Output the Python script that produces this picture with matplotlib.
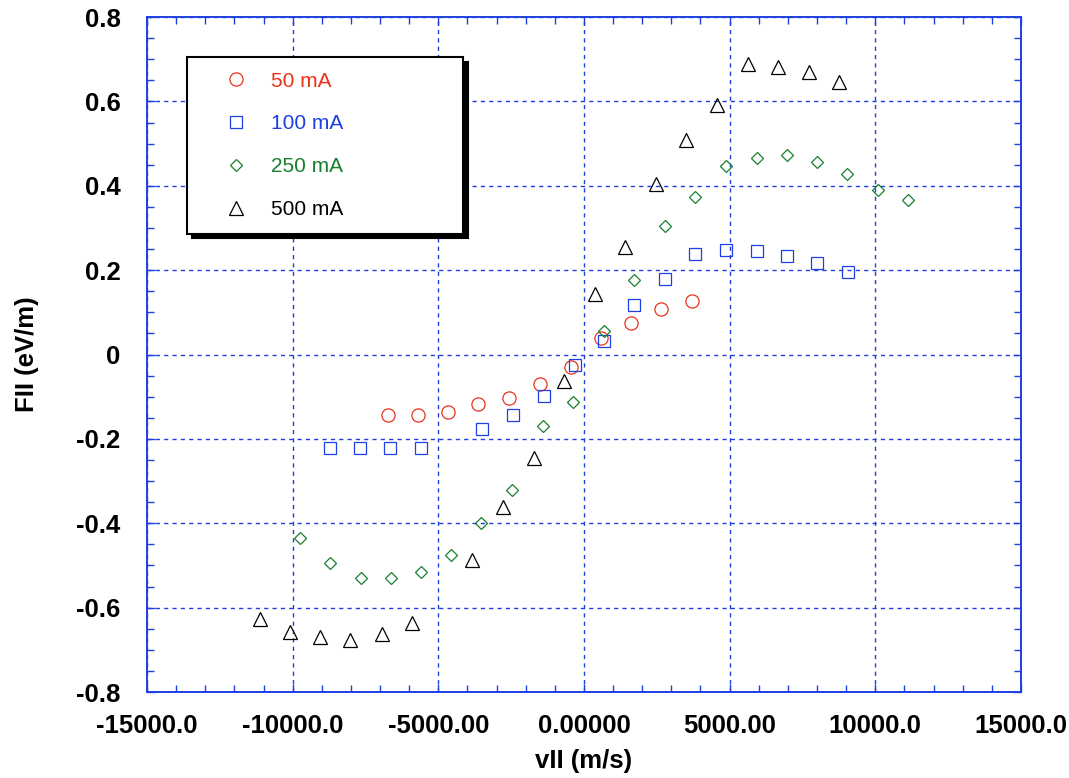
import numpy as np
import matplotlib
matplotlib.use("Agg")
import matplotlib.pyplot as plt
from matplotlib.ticker import MultipleLocator

plt.rcParams['font.family'] = ['Liberation Sans', 'DejaVu Sans']

# ---- data (v in m/s, F in eV/m) ----
v_50 = [-6720, -5690, -4660, -3620, -2580, -1500, -460, 580, 1610, 2660, 3720]
f_50 = [-0.143, -0.143, -0.136, -0.118, -0.104, -0.070, -0.029, 0.039, 0.074, 0.108, 0.127]

v_100 = [-8720, -7690, -6650, -5600, -3490, -2420, -1370, -310, 700, 1720, 2780,
         3820, 4880, 5930, 6970, 7990, 9050]
f_100 = [-0.222, -0.222, -0.222, -0.222, -0.177, -0.144, -0.098, -0.025, 0.032, 0.118,
         0.178, 0.239, 0.249, 0.245, 0.233, 0.217, 0.195]

v_250 = [-9750, -8720, -7660, -6630, -5600, -4570, -3520, -2460, -1400, -370, 700,
         1730, 2780, 3810, 4870, 5930, 6960, 7990, 9040, 10080, 11110]
f_250 = [-0.434, -0.493, -0.529, -0.529, -0.516, -0.475, -0.400, -0.320, -0.169, -0.113,
         0.056, 0.177, 0.305, 0.373, 0.447, 0.465, 0.473, 0.456, 0.429, 0.390, 0.366]

v_500 = [-11120, -10090, -9060, -8020, -6940, -5900, -3830, -2770, -1710, -670, 380,
         1410, 2460, 3510, 4570, 5620, 6660, 7720, 8760]
f_500 = [-0.627, -0.658, -0.669, -0.677, -0.663, -0.637, -0.487, -0.361, -0.246, -0.062,
         0.143, 0.254, 0.404, 0.508, 0.591, 0.689, 0.681, 0.669, 0.645]

x_ticks = [-15000, -10000, -5000, 0, 5000, 10000, 15000]
x_ticklabels = ['-15000.0', '-10000.0', '-5000.00', '0.00000', '5000.00', '10000.0', '15000.0']
y_ticks = [-0.8, -0.6, -0.4, -0.2, 0, 0.2, 0.4, 0.6, 0.8]
y_ticklabels = ['-0.8', '-0.6', '-0.4', '-0.2', '0', '0.2', '0.4', '0.6', '0.8']

################################
axblue = '#1f3fe0'
red = '#e8331c'
blue = '#1f3fe6'
green = '#17802e'
################################

fig = plt.figure(figsize=(10.69, 7.78), dpi=100)
ax = fig.add_axes([0.1375, 0.1105, 0.8175, 0.8675])

ax.plot(v_50, f_50, 'o', ms=9.5, mfc='none', mec=red, mew=0.9, label='50 mA')
ax.plot(v_100, f_100, 's', ms=8.8, mfc='none', mec=blue, mew=0.9, label='100 mA')
ax.plot(v_250, f_250, 'D', ms=6.4, mfc='none', mec=green, mew=0.9, label='250 mA')
ax.plot(v_500, f_500, '^', ms=9.6, mfc='none', mec='black', mew=0.9, label='500 mA')

ax.set_xlim(-15000, 15000)
ax.set_ylim(-0.8, 0.8)
ax.set_xticks(x_ticks)
ax.set_xticklabels(x_ticklabels)
ax.set_yticks(y_ticks)
ax.set_yticklabels(y_ticklabels)
ax.xaxis.set_minor_locator(MultipleLocator(1000))
ax.yaxis.set_minor_locator(MultipleLocator(0.05))

ax.grid(True, which='major', color=axblue, linestyle=(0, (3, 3)), linewidth=1.0)
for s in ax.spines.values():
    s.set_color(axblue)
    s.set_linewidth(1.4)
ax.tick_params(which='both', direction='in', top=True, right=True, color=axblue, width=1.0)
ax.tick_params(which='major', length=6)
ax.tick_params(which='minor', length=5)
ax.tick_params(axis='x', which='major', pad=16, labelsize=18.5)
ax.tick_params(axis='y', which='major', pad=19, labelsize=18.5)
for lab in ax.get_xticklabels() + ax.get_yticklabels():
    lab.set_fontweight('bold')

ax.set_xlabel('vII (m/s)', fontsize=18.5, fontweight='bold', labelpad=8)
ax.set_ylabel('FII (eV/m)', fontsize=18.5, fontweight='bold', labelpad=27)

leg = ax.legend(loc='upper left', bbox_to_anchor=(0.0458, 0.6844, 0.316, 0.256),
                mode='expand', borderaxespad=0, fontsize=15, numpoints=1,
                handlelength=3.3, handletextpad=0.05, labelspacing=1.15,
                borderpad=0.68, fancybox=False, framealpha=1, edgecolor='black',
                labelcolor=[red, blue, green, 'black'],
                shadow={'ox': 3.5, 'oy': -3.5, 'color': 'black', 'alpha': 1})
leg.get_frame().set_linewidth(1.5)

plt.savefig('out.png', dpi=100)
